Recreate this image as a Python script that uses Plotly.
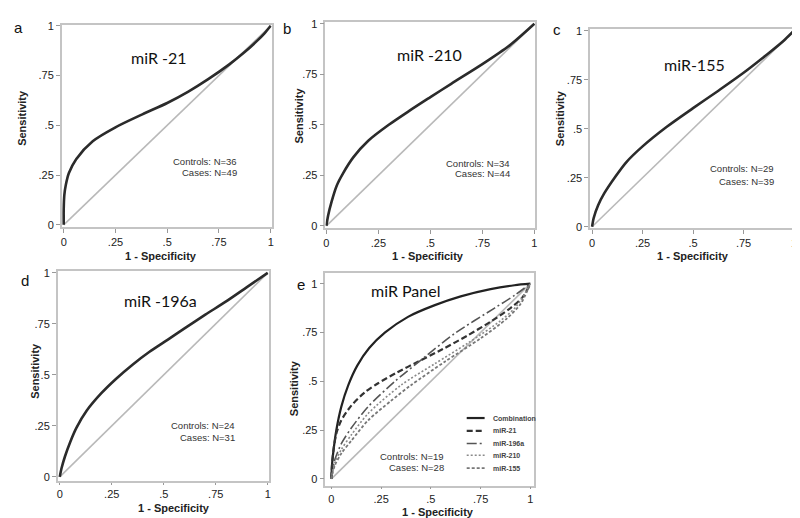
import plotly.graph_objects as go

W, H = 800, 518

# ---------------- data ----------------
tick_vals = [0, 0.25, 0.5, 0.75, 1]
tick_text = ["0", ".25", ".5", ".75", "1"]

# a: miR-21
fpr_a = [0, 0.0, 0.003, 0.01, 0.025, 0.06, 0.14, 0.25, 0.38, 0.5, 0.6, 0.7, 0.8, 0.87, 0.93, 0.97, 1.0]
tpr_a = [0, 0.08, 0.15, 0.2, 0.26, 0.33, 0.42, 0.49, 0.555, 0.612, 0.668, 0.733, 0.806, 0.864, 0.92, 0.962, 1.0]
# b: miR-210
fpr_b = [0, 0.008, 0.025, 0.05, 0.08, 0.13, 0.2, 0.3, 0.4, 0.5, 0.6, 0.75, 0.88, 1]
tpr_b = [0, 0.05, 0.12, 0.2, 0.26, 0.34, 0.42, 0.5, 0.57, 0.637, 0.703, 0.8, 0.892, 1]
# c: miR-155
fpr_c = [0, 0.008, 0.03, 0.06, 0.115, 0.17, 0.25, 0.37, 0.5, 0.62, 0.75, 0.88, 0.95, 1]
tpr_c = [0, 0.045, 0.11, 0.17, 0.255, 0.33, 0.41, 0.51, 0.605, 0.69, 0.785, 0.89, 0.95, 1]
# d: miR-196a
fpr_d = [0, 0.008, 0.025, 0.05, 0.08, 0.13, 0.2, 0.27, 0.35, 0.43, 0.52, 0.6, 0.7, 0.8, 0.9, 1]
tpr_d = [0, 0.04, 0.1, 0.17, 0.24, 0.325, 0.41, 0.48, 0.55, 0.612, 0.673, 0.728, 0.795, 0.86, 0.93, 1]
# e: miR panel
fpr_comb = [0, 0.003, 0.01, 0.025, 0.05, 0.085, 0.13, 0.19, 0.27, 0.385, 0.52, 0.65, 0.8, 0.92, 1]
tpr_comb = [0, 0.07, 0.14, 0.25, 0.37, 0.48, 0.58, 0.67, 0.75, 0.83, 0.89, 0.935, 0.972, 0.992, 1]
fpr_e21 = [0, 0.004, 0.012, 0.027, 0.05, 0.1, 0.17, 0.235, 0.33, 0.435, 0.56, 0.685, 0.8, 0.9, 0.96, 1]
tpr_e21 = [0, 0.08, 0.16, 0.24, 0.3, 0.375, 0.445, 0.49, 0.545, 0.6, 0.665, 0.735, 0.805, 0.875, 0.93, 1]
fpr_e196 = [0, 0.005, 0.018, 0.05, 0.1, 0.185, 0.32, 0.47, 0.62, 0.82, 0.92, 1]
tpr_e196 = [0, 0.04, 0.1, 0.18, 0.26, 0.37, 0.5, 0.625, 0.745, 0.875, 0.94, 1]
fpr_e210 = [0, 0.005, 0.018, 0.05, 0.1, 0.185, 0.35, 0.52, 0.685, 0.85, 0.93, 1]
tpr_e210 = [0, 0.03, 0.085, 0.15, 0.225, 0.335, 0.48, 0.59, 0.695, 0.81, 0.885, 1]
fpr_e155 = [0, 0.005, 0.018, 0.05, 0.1, 0.185, 0.3, 0.4, 0.57, 0.75, 0.88, 0.95, 1]
tpr_e155 = [0, 0.025, 0.07, 0.13, 0.195, 0.3, 0.4, 0.48, 0.6, 0.72, 0.82, 0.895, 1]

panel_titles = ["miR -21", "miR -210", "miR-155", "miR -196a", "miR Panel"]
panel_letters = ["a", "b", "c", "d", "e"]
controls_n = [36, 34, 29, 24, 19]
cases_n = [49, 44, 39, 31, 28]
legend_names = ["Combination", "miR-21", "miR-196a", "miR-210", "miR-155"]

# ---------------- layout geometry (pixels) ----------------
# frame: left, right, top, bottom ; data (0,0) pixel ; data (1,1) pixel
geom = [
    dict(frame=(52, 263, 12, 218), zero=(54, 216), one=(262, 13)),
    dict(frame=(317, 528, 9, 219), zero=(318, 217), one=(527, 11)),
    dict(frame=(583, 789, 16, 219), zero=(585, 218), one=(788, 18)),
    dict(frame=(48, 260, 263, 477), zero=(50, 473), one=(259, 265)),
    dict(frame=(317, 527, 265, 482), zero=(323, 475), one=(523, 276)),
]
xtick_len = [4, 4, 4, 2, 2]
title_pos = [(150, 45), (422, 42), (688, 53), (151, 293), (397, 283)]
letter_pos = [(9, 15), (278, 16), (550, 17), (15, 273), (292, 277)]
ctrl_pos = [(230, 151, 163), (505, 153, 164), (770, 159, 172), (228, 421, 433), (438, 452, 463)]
ylab_pos = [(12, 107), (290, 105), (553, 107), (25, 365), (285, 383)]
xlab_pos = [(152, 248), (420, 248), (686, 248), (165, 505), (430, 509)]

FONT = "Arial, Liberation Sans, sans-serif"
TFONT = "Lato, Open Sans, sans-serif"
CURVE = "#2b2b2b"
DIAG = "#b9b9b9"
FRAME = "#c4c4c4"


def px(x, y):
    return x / W, 1 - y / H


fig = go.Figure()
layout = dict(width=W, height=H, margin=dict(l=0, r=0, t=0, b=0),
              paper_bgcolor="white", plot_bgcolor="white", showlegend=False)
annotations = []

for i, g in enumerate(geom):
    n = i + 1
    L, R, T, B = g["frame"]
    x0, y0 = g["zero"]
    x1, y1 = g["one"]
    xr = [(L - x0) / (x1 - x0), (R - x0) / (x1 - x0)]
    yr = [(y0 - B) / (y0 - y1), (y0 - T) / (y0 - y1)]
    common = dict(showgrid=False, zeroline=False, showline=True, mirror=True,
                  linecolor=FRAME, linewidth=1.5, ticks="outside",
                  tickcolor="#999", tickwidth=1, tickvals=tick_vals, ticktext=tick_text,
                  ticklabeloverflow="allow",
                  tickfont=dict(family=FONT, size=11, color="#222"))
    layout[f"xaxis{n}"] = dict(domain=[L / W, R / W], range=xr, anchor=f"y{n}",
                               ticklen=xtick_len[i], **common)
    layout[f"yaxis{n}"] = dict(domain=[1 - B / H, 1 - T / H], range=yr, anchor=f"x{n}",
                               ticklen=4, **common)

    # diagonal reference
    fig.add_trace(go.Scatter(x=[0, 1], y=[0, 1], mode="lines", xaxis=f"x{n}", yaxis=f"y{n}",
                             line=dict(color=DIAG, width=1.6), hoverinfo="skip"))

    # titles / labels
    tx, ty = px(*title_pos[i])
    annotations.append(dict(x=tx, y=ty, xref="paper", yref="paper", text=panel_titles[i],
                            showarrow=False, font=dict(family=TFONT, size=16, color="#111"),
                            xanchor="center", yanchor="middle"))
    lx, ly = px(*letter_pos[i])
    annotations.append(dict(x=lx, y=ly, xref="paper", yref="paper", text=panel_letters[i],
                            showarrow=False, font=dict(family=FONT, size=15, color="#111"),
                            xanchor="center", yanchor="middle"))
    cx, cy1, cy2 = ctrl_pos[i]
    for txt, yy in ((f"Controls: N={controls_n[i]}", cy1), (f"Cases: N={cases_n[i]}", cy2)):
        ax_, ay_ = px(cx, yy)
        annotations.append(dict(x=ax_, y=ay_, xref="paper", yref="paper", text=txt,
                                showarrow=False, font=dict(family=FONT, size=9.5, color="#333"),
                                xanchor="right", yanchor="middle"))
    sx, sy = px(*ylab_pos[i])
    annotations.append(dict(x=sx, y=sy, xref="paper", yref="paper", text="<b>Sensitivity</b>",
                            showarrow=False, textangle=-90,
                            font=dict(family=FONT, size=11, color="#222"),
                            xanchor="center", yanchor="middle"))
    qx, qy = px(*xlab_pos[i])
    annotations.append(dict(x=qx, y=qy, xref="paper", yref="paper", text="<b>1 - Specificity</b>",
                            showarrow=False, font=dict(family=FONT, size=11, color="#222"),
                            xanchor="center", yanchor="middle"))

single = [(fpr_a, tpr_a), (fpr_b, tpr_b), (fpr_c, tpr_c), (fpr_d, tpr_d)]
for i, (fx, ty_) in enumerate(single):
    n = i + 1
    fig.add_trace(go.Scatter(x=fx, y=ty_, mode="lines", xaxis=f"x{n}", yaxis=f"y{n}",
                             line=dict(color=CURVE, width=2.6, shape="spline", smoothing=0.8),
                             name=panel_titles[i]))

panel_e = [(fpr_comb, tpr_comb), (fpr_e21, tpr_e21), (fpr_e196, tpr_e196),
           (fpr_e210, tpr_e210), (fpr_e155, tpr_e155)]
e_styles = [
    dict(color="#222222", width=2.2, dash="solid"),
    dict(color="#333333", width=2.2, dash="6px,3px"),
    dict(color="#555555", width=1.6, dash="10px,3px,2px,3px"),
    dict(color="#8a8a8a", width=1.6, dash="2px,2px"),
    dict(color="#777777", width=1.8, dash="3px,2px"),
]
for (fx, ty_), st, nm in zip(panel_e, e_styles, legend_names):
    fig.add_trace(go.Scatter(x=fx, y=ty_, mode="lines", xaxis="x5", yaxis="y5", name=nm,
                             line=dict(shape="spline", smoothing=0.8, **st)))

# legend drawn inside panel e (compact rows, like the reference)
leg_rows = [413, 426, 439, 451, 464]
shapes = []
for nm, st, yy in zip(legend_names, e_styles, leg_rows):
    a0 = px(459, yy)
    a1 = px(477, yy)
    shapes.append(dict(type="line", xref="paper", yref="paper", x0=a0[0], y0=a0[1],
                       x1=a1[0], y1=a1[1],
                       line=dict(color=st["color"], width=st["width"], dash=st["dash"])))
    tx, ty = px(483, yy)
    annotations.append(dict(x=tx, y=ty, xref="paper", yref="paper", text=f"<b>{nm}</b>",
                            showarrow=False, font=dict(family=FONT, size=7, color="#444"),
                            xanchor="left", yanchor="middle"))

layout["annotations"] = annotations
layout["shapes"] = shapes
fig.update_layout(**layout)
fig.write_html("out.html")
